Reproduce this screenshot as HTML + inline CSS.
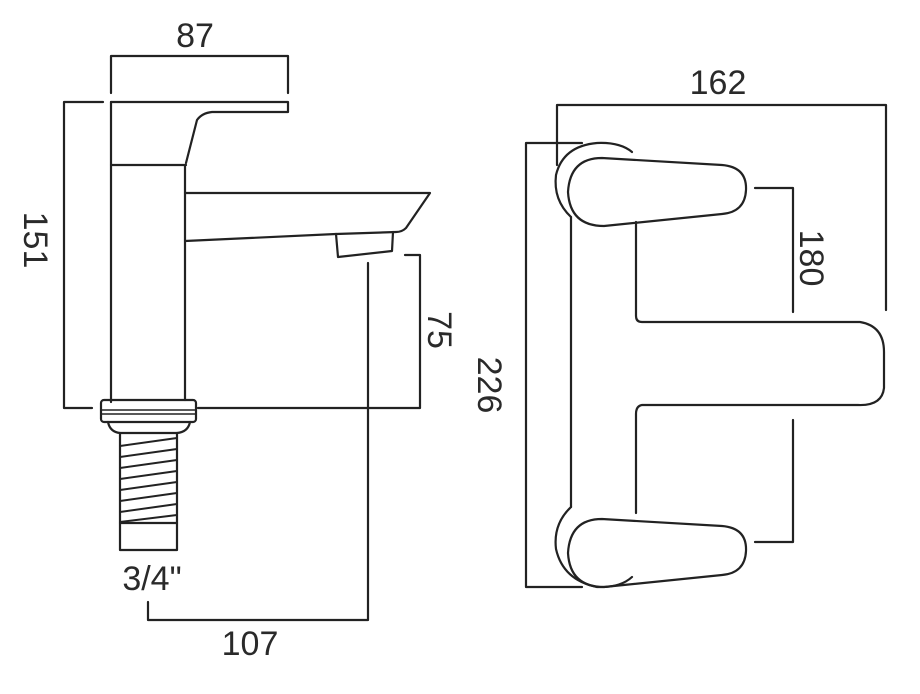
<!DOCTYPE html>
<html><head><meta charset="utf-8"><style>
html,body{margin:0;padding:0;background:#fff;}
svg{display:block}
text{font-family:"Liberation Sans",sans-serif;font-size:34px;fill:#2a2a2a;}
</style></head><body>
<svg width="920" height="694" viewBox="0 0 920 694" xmlns="http://www.w3.org/2000/svg">
<g fill="none" stroke="#222" stroke-width="2.2" stroke-linejoin="round" stroke-linecap="round">
<!-- 87 dim -->
<path d="M111 93 V56 H288 V93"/>
<!-- 151 dim -->
<path d="M103 102 H64 V408 H92"/>
<!-- body -->
<path d="M111 102 V402"/>
<path d="M111 102 H288 V112 H212 Q202 113 197 120 L186 163"/>
<path d="M111 165 H186"/>
<path d="M185 165 V400"/>
<!-- spout -->
<path d="M185 193 H430 L406 228 Q402 232 396 232 L336 234"/>
<path d="M185 241 L336 234"/>
<path d="M336 234 L338 257 L392 251 L393 232"/>
<!-- 75 dim -->
<path d="M405 255 H420 V408 H198"/>
<!-- 107 dim -->
<path d="M368 263 V620 H148 V602"/>
<!-- nut -->
<rect x="101" y="400" width="95" height="22" rx="3"/>
<path d="M101 410 H196 M101 414 H196" stroke-width="1.4"/>
<path d="M108 422 Q110 432 120 433 H177 Q188 432 190 422"/>
<path d="M120 433 V523 H177 V433"/>
<path d="M120 446 L177 438 M120 457 L177 449 M120 468 L177 460 M120 479 L177 471 M120 490 L177 482 M120 501 L177 493 M120 512 L177 504 M120 522 L177 515" stroke-width="2"/>
<path d="M120 523 V550 H177 V523"/>
<!-- 162 dim -->
<path d="M557 165 V105 H886 V310"/>
<!-- 226 dim -->
<path d="M582 143 H526 V587 H582"/>
<!-- top handle -->
<path d="M571 217 Q553 200 556 175 Q563 146 597 143 Q620 142 632 152"/>
<path d="M602 158 L722 165 Q747 167 746 190 Q745 212 722 214 L604 226 Q570 226 568 192 Q570 158 602 158 Z"/>
<!-- bottom handle -->
<path d="M571 507 Q553 524 556 549 Q563 580 597 587 Q620 588 632 577"/>
<path d="M602 519 L722 526 Q747 528 746 551 Q745 573 722 575 L604 587 Q570 587 568 553 Q570 519 602 519 Z"/>
<!-- body -->
<path d="M571 217 V507"/>
<path d="M636 222 V316 Q636 322 642 322 H860 Q884 326 884 352 V388 Q882 406 858 405 H642 Q636 406 636 414 V513"/>
<!-- 180 dim -->
<path d="M755 188 H793 V312 M793 420 V542 H755"/>
</g>
<text x="195" y="47" text-anchor="middle">87</text>
<text x="718" y="94" text-anchor="middle">162</text>
<text x="250" y="655" text-anchor="middle">107</text>
<text x="152" y="590" text-anchor="middle">3/4"</text>
<text transform="translate(24,240) rotate(90)" text-anchor="middle">151</text>
<text transform="translate(428,330) rotate(90)" text-anchor="middle">75</text>
<text transform="translate(478,385) rotate(90)" text-anchor="middle">226</text>
<text transform="translate(800,258) rotate(90)" text-anchor="middle">180</text>
</svg>
</body></html>
